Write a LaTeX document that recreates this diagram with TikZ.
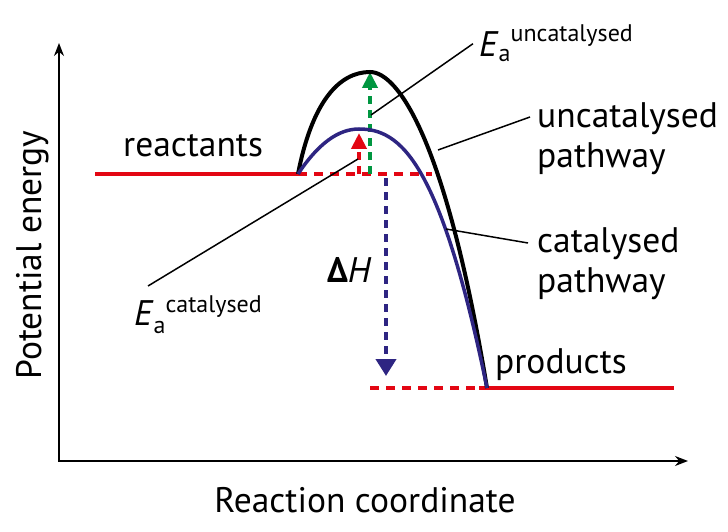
\documentclass[tikz,border=0pt]{standalone}
\usepackage{fontspec}
\setmainfont{PT Sans}
\usetikzlibrary{arrows.meta,calc}
\definecolor{lvlred}{RGB}{227,6,19}
\definecolor{catblue}{RGB}{46,37,130}
\definecolor{eagreen}{RGB}{0,150,64}
\tikzset{lvl/.style={draw=lvlred,line width=4.5pt},
  lvldash/.style={lvl,dash pattern=on 9pt off 7pt},
  lbl/.style={inner sep=0pt,font=\fontsize{35.5}{40}\selectfont},
  leader/.style={draw,line width=1.5pt},
  barrier/.style={line width=4pt,dash pattern=on 8pt off 6pt,-{Triangle[length=16pt,width=15pt]}},
  pathway/.style={line width=4pt}}
\newcommand{\sm}[1]{{\fontsize{24}{26}\selectfont #1}}

\begin{document}
\begin{tikzpicture}[x=1pt,y=-1pt,>=Stealth]
    \useasboundingbox (0,0) rectangle (728,532);

    % axes
    \coordinate (o) at (59,461);
    \coordinate (ytop) at (59,43);
    \coordinate (xend) at (688,461);
    \draw[line width=1.5pt,{Stealth[length=13pt,width=10pt]}-{Stealth[length=13pt,width=10pt]}] (ytop) -- (o) -- (xend);
    \node[lbl,rotate=90] (ylab) at (33,255) {Potential energy};
    \node[lbl] (xlab) at (365,500) {Reaction coordinate};

    % levels
    \coordinate (r0) at (95,174);
    \coordinate (r) at (298,174);
    \coordinate (r1) at (432,174);
    \coordinate (p0) at (370,388);
    \coordinate (p1) at (479,388);
    \coordinate (p) at (487,388);
    \coordinate (p2) at (674,388);
    \coordinate (peakU) at (370,72);
    \coordinate (peakC) at (359,129);
    \draw[lvl] (r0) -- (r);
    \draw[lvldash] (r) -- (r1);
    \draw[lvl] (p1) -- (p2);
    \draw[lvldash] (p0) -- (p1);

    % barriers
    \coordinate (gb) at (370,174);
    \coordinate (rb) at (359,174);
    \coordinate (rt) at (359,133);
    \coordinate (bb) at (386,178);
    \coordinate (bt) at (386,376);
    \draw[barrier,eagreen] (gb) -- (peakU);
    \draw[barrier,lvlred] (rb) -- (rt);
    \draw[barrier,catblue,-{Triangle[length=17pt,width=20pt]}] (bb) -- (bt);

    % pathways
    \draw[pathway] (r) .. controls (312,102) and (339,72) .. (peakU)
        .. controls (398,72) and (446,140) .. (p);
    \draw[pathway,catblue,line width=3.5pt] (r) .. controls (318,144) and (338,129) .. (peakC)
        .. controls (400,129) and (440,160) .. (p);

    % labels
    \node[lbl,anchor=base west] (reac) at (123,157) {reactants};
    \node[lbl,anchor=base west] (prod) at (495,373) {products};
    \node[lbl,anchor=north west,align=left] (unpath) at (537,102) {uncatalysed\\pathway};
    \node[lbl,anchor=north west,align=left] (catpath) at (537,227) {catalysed\\pathway};
    \node[lbl,anchor=base west] (dH) at (327,282) {\textbf{Δ}\textit{H}};
    \node[lbl,anchor=base west] (eaU) at (479,57) {\textit{E}\raisebox{-5pt}{\sm{a}}\raisebox{15pt}{\sm{uncatalysed}}};
    \node[lbl,anchor=base west] (eaC) at (134,325) {\textit{E}\raisebox{-8pt}{\sm{a}}\raisebox{13pt}{\sm{catalysed}}};

    % leaders
    \coordinate (onG) at (371,115);
    \coordinate (onR) at (358,159);
    \coordinate (onK) at (438,150);
    \coordinate (onB) at (446,229);
    \draw[leader] (onG) -- ([xshift=-6pt]eaU.west);
    \draw[leader] (onR) -- ([xshift=14pt,yshift=9pt]eaC.north west);
    \draw[leader] (onK) -- ([xshift=-7pt,yshift=-15pt]unpath.north west);
    \draw[leader] (onB) -- ([xshift=-9pt,yshift=-16pt]catpath.north west);
\end{tikzpicture}
\end{document}
